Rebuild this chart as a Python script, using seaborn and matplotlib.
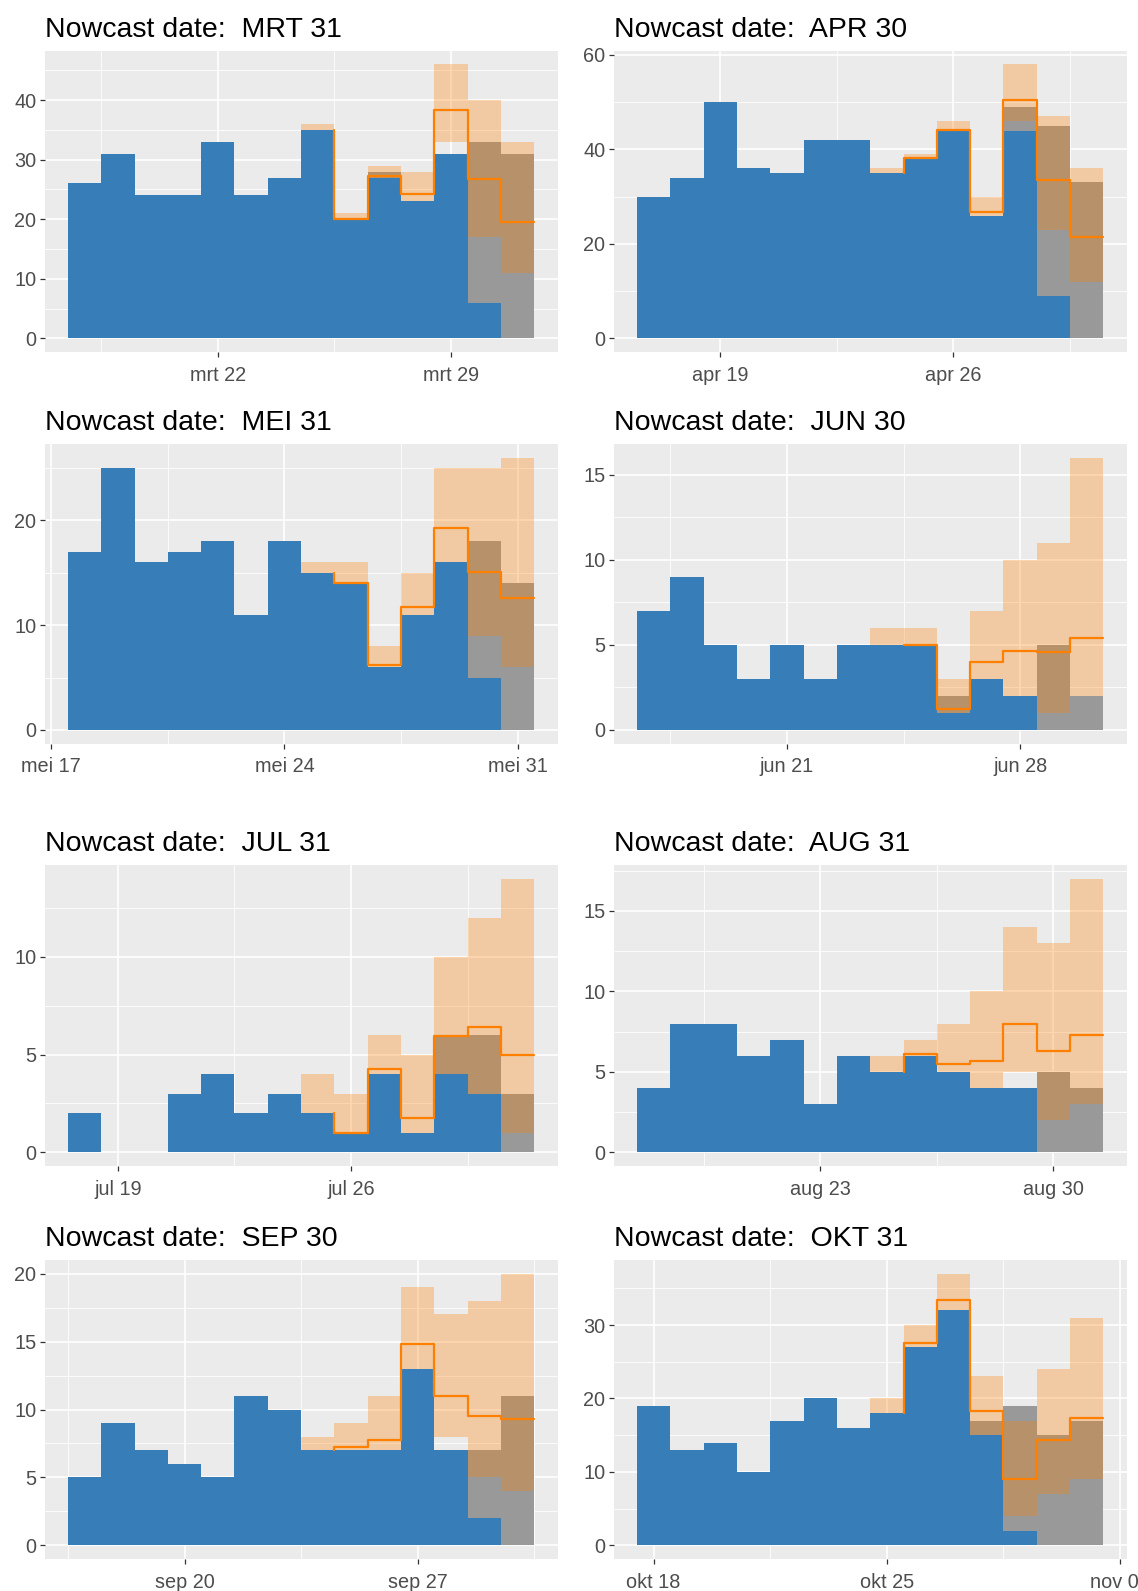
import matplotlib
matplotlib.use("Agg")
import matplotlib.pyplot as plt
import matplotlib.dates as mdates
from matplotlib.ticker import MultipleLocator, FixedLocator, FuncFormatter
import numpy as np
import pandas as pd
import seaborn as sns

sns.set_theme(style="darkgrid", rc={"axes.facecolor": "#EBEBEB", "grid.color": "white"})
plt.rcParams["font.family"] = ["Liberation Sans", "DejaVu Sans"]

BLUE = "#377EB8"
GREY = "#999999"
ORANGE = "#FF7F00"
MONTHS_NL = ["jan", "feb", "mrt", "apr", "mei", "jun", "jul", "aug", "sep", "okt", "nov", "dec"]

# nowcast dates and panel titles
nowcast_dates = ["2020-03-31", "2020-04-30", "2020-05-31", "2020-06-30",
                 "2020-07-31", "2020-08-31", "2020-09-30", "2020-10-31"]
titles = ["MRT 31", "APR 30", "MEI 31", "JUN 30", "JUL 31", "AUG 31", "SEP 30", "OKT 31"]
y_steps = [10, 20, 10, 5, 5, 5, 5, 10]

# per panel: reported at nowcast date (blue, 14 days), final count (grey, 14 days),
# nowcast interval lower/upper and median (last 7 days)
reported_mrt = [26, 31, 24, 24, 33, 24, 27, 35, 20, 27, 23, 31, 6, 0]
final_mrt = [26, 31, 24, 24, 33, 24, 27, 35, 20, 28, 23, 31, 33, 31]
lower_mrt = [35, 20, 27, 23, 33, 17, 11]
upper_mrt = [36, 21, 29, 28, 46, 40, 33]
median_mrt = [35, 20, 27.2, 24.2, 38.3, 26.7, 19.5]

reported_apr = [30, 34, 50, 36, 35, 42, 42, 35, 38, 44, 26, 44, 9, 0]
final_apr = [30, 34, 50, 36, 35, 42, 42, 35, 38, 44, 26, 49, 45, 33]
lower_apr = [35, 38, 44, 26, 46, 23, 12]
upper_apr = [36, 39, 46, 30, 58, 47, 36]
median_apr = [35, 38.2, 44.1, 26.8, 50.4, 33.5, 21.4]

reported_mei = [17, 25, 16, 17, 18, 11, 18, 15, 14, 6, 11, 16, 5, 0]
final_mei = [17, 25, 16, 17, 18, 11, 18, 15, 14, 6, 11, 16, 18, 14]
lower_mei = [15, 14, 6, 11, 16, 9, 6]
upper_mei = [16, 16, 8, 15, 25, 25, 26]
median_mei = [15, 14, 6.2, 11.7, 19.3, 15.1, 12.6]

reported_jun = [7, 9, 5, 3, 5, 3, 5, 5, 5, 1, 3, 2, 0, 0]
final_jun = [7, 9, 5, 3, 5, 3, 5, 5, 5, 2, 3, 2, 5, 2]
lower_jun = [5, 5, 1, 3, 2, 1, 2]
upper_jun = [6, 6, 3, 7, 10, 11, 16]
median_jun = [5, 5, 1.25, 4.0, 4.65, 4.55, 5.4]

reported_jul = [2, 0, 0, 3, 4, 2, 3, 2, 1, 4, 1, 4, 3, 0]
final_jul = [2, 0, 0, 3, 4, 2, 3, 2, 1, 4, 1, 6, 6, 3]
lower_jul = [2, 1, 4, 1, 4, 3, 1]
upper_jul = [4, 3, 6, 5, 10, 12, 14]
median_jul = [2, 1.0, 4.25, 1.75, 5.95, 6.4, 5.0]

reported_aug = [4, 8, 8, 6, 7, 3, 6, 5, 6, 5, 4, 4, 0, 0]
final_aug = [4, 8, 8, 6, 7, 3, 6, 5, 6, 5, 4, 4, 5, 4]
lower_aug = [5, 6, 5, 4, 5, 2, 3]
upper_aug = [6, 7, 8, 10, 14, 13, 17]
median_aug = [5, 6.1, 5.5, 5.7, 8.0, 6.3, 7.3]

reported_sep = [5, 9, 7, 6, 5, 11, 10, 7, 7, 7, 13, 7, 2, 0]
final_sep = [5, 9, 7, 6, 5, 11, 10, 7, 7, 7, 13, 7, 7, 11]
lower_sep = [7, 7, 7, 13, 8, 5, 4]
upper_sep = [8, 9, 11, 19, 17, 18, 20]
median_sep = [7, 7.25, 7.75, 14.8, 11.0, 9.5, 9.3]

reported_okt = [19, 13, 14, 10, 17, 20, 16, 18, 27, 32, 15, 2, 0, 0]
final_okt = [19, 13, 14, 10, 17, 20, 16, 18, 27, 32, 17, 19, 15, 17]
lower_okt = [18, 27, 32, 15, 4, 7, 9]
upper_okt = [20, 30, 37, 23, 17, 24, 31]
median_okt = [18, 27.6, 33.4, 18.3, 9.0, 14.3, 17.4]

panels = [
    (reported_mrt, final_mrt, lower_mrt, upper_mrt, median_mrt),
    (reported_apr, final_apr, lower_apr, upper_apr, median_apr),
    (reported_mei, final_mei, lower_mei, upper_mei, median_mei),
    (reported_jun, final_jun, lower_jun, upper_jun, median_jun),
    (reported_jul, final_jul, lower_jul, upper_jul, median_jul),
    (reported_aug, final_aug, lower_aug, upper_aug, median_aug),
    (reported_sep, final_sep, lower_sep, upper_sep, median_sep),
    (reported_okt, final_okt, lower_okt, upper_okt, median_okt),
]


def date_label(v, pos):
    d = mdates.num2date(v)
    return f"{MONTHS_NL[d.month - 1]} {d.day:02d}"


def draw_panel(ax, nowcast, title, reported, final, lower, upper, median, y_step):
    end = pd.Timestamp(nowcast)
    days = pd.date_range(end - pd.Timedelta(days=13), end)
    x = mdates.date2num(days.to_pydatetime())
    x_last = x[-7:]

    sns.histplot(x=x, weights=final, discrete=True, color=GREY, alpha=1,
                 linewidth=0, edgecolor="none", ax=ax, zorder=1)
    sns.histplot(x=x, weights=reported, discrete=True, color=BLUE, alpha=1,
                 linewidth=0, edgecolor="none", ax=ax, zorder=2)
    ax.bar(x_last, np.array(upper) - np.array(lower), bottom=lower, width=1.0,
           color=ORANGE, alpha=0.3, linewidth=0, zorder=3)
    sns.lineplot(x=x_last + 0.5, y=median, drawstyle="steps-pre", color=ORANGE,
                 linewidth=1.6, estimator=None, sort=False, ax=ax, zorder=4)

    # ggplot-like expansion
    x0, x1 = x[0] - 0.5 - 0.7, x[-1] + 0.5 + 0.7
    ymax = max(max(final), max(upper))
    ax.set_xlim(x0, x1)
    ax.set_ylim(-0.05 * ymax, 1.05 * ymax)

    sundays = [v for v in np.arange(x[0] - 14, x[-1] + 15) if mdates.num2date(v).weekday() == 6]
    ax.xaxis.set_major_locator(FixedLocator(sundays))
    ax.xaxis.set_minor_locator(FixedLocator([s + 3.5 for s in sundays]))
    ax.xaxis.set_major_formatter(FuncFormatter(date_label))
    ax.yaxis.set_major_locator(MultipleLocator(y_step))
    ax.yaxis.set_minor_locator(MultipleLocator(y_step / 2))

    ax.grid(which="major", color="white", linewidth=1.2)
    ax.grid(which="minor", color="white", linewidth=0.6)
    ax.tick_params(which="major", bottom=True, left=True, length=3.5, width=0.9,
                   color="#333333", labelsize=14.3, labelcolor="#4D4D4D")
    ax.tick_params(axis="x", which="major", pad=6.5)
    ax.tick_params(axis="y", which="major", pad=2.5)
    ax.tick_params(which="minor", length=0)
    for s in ax.spines.values():
        s.set_visible(False)
    ax.set_xlabel("")
    ax.set_ylabel("")
    ax.set_title(f"Nowcast date:  {title}", loc="left", fontsize=20.5, pad=10, color="black")


W, H = 1138, 1591
fig = plt.figure(figsize=(W / 100, H / 100), dpi=100)
col_left = [44.6, 613.7]
panel_w = 513
rows = [(50.7, 352), (444, 743.5), (865, 1166), (1260, 1559)]

for i, (nowcast, title, data, y_step) in enumerate(zip(nowcast_dates, titles, panels, y_steps)):
    top, bottom = rows[i // 2]
    left = col_left[i % 2]
    ax = fig.add_axes([left / W, 1 - bottom / H, panel_w / W, (bottom - top) / H])
    draw_panel(ax, nowcast, title, *data, y_step)

fig.savefig("out.png", dpi=100)
